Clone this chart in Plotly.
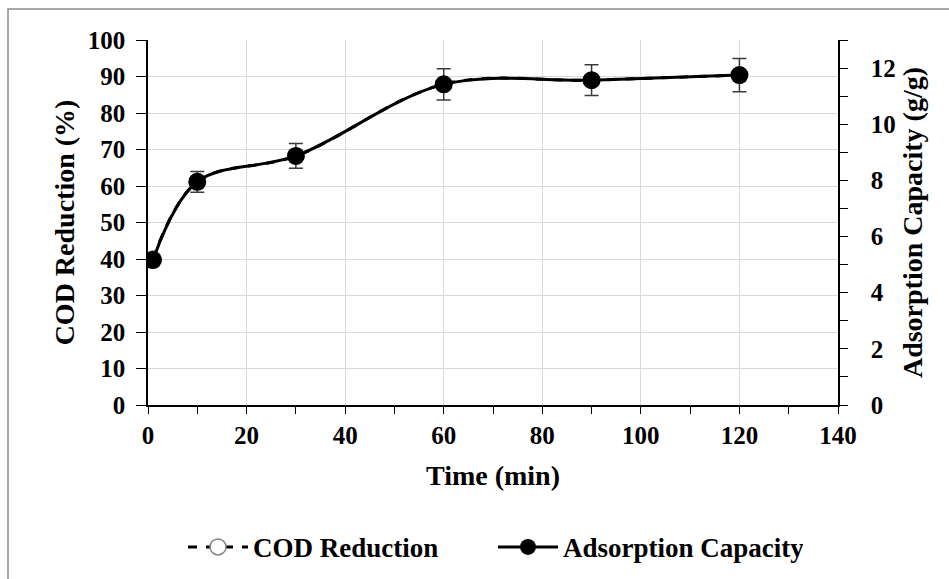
import plotly.graph_objects as go

# ---- data ----
time_min = [1, 10, 30, 60, 90, 120]
cod_reduction = [40.0, 61.2, 68.2, 87.9, 89.0, 90.4]          # %
adsorption_capacity = [5.16, 7.95, 8.87, 11.42, 11.57, 11.75]  # g/g
adsorption_err = [0.0, 0.37, 0.44, 0.56, 0.55, 0.59]           # g/g

x_ticks = [0, 20, 40, 60, 80, 100, 120, 140]
y_left_ticks = [0, 10, 20, 30, 40, 50, 60, 70, 80, 90, 100]
y_right_ticks = [0, 2, 4, 6, 8, 10, 12]

FONT = "Liberation Serif"
W, H = 949, 579
ML, MR, MT, MB = 148, 111, 40, 174
PW, PH = W - ML - MR, H - MT - MB

fig = go.Figure()

fig.add_trace(go.Scatter(
    x=time_min, y=cod_reduction, name="<b>COD Reduction</b>",
    mode="lines+markers", yaxis="y", xaxis="x",
    line=dict(color="black", width=3, dash="dash", shape="spline", smoothing=1),
    marker=dict(symbol="circle", size=16, color="white",
                line=dict(color="#808080", width=1.5)),
))

fig.add_trace(go.Scatter(
    x=time_min, y=adsorption_capacity, name="<b>Adsorption Capacity</b>",
    mode="lines+markers", yaxis="y2", xaxis="x",
    line=dict(color="black", width=3, shape="spline", smoothing=1),
    marker=dict(symbol="circle", size=18, color="black"),
    error_y=dict(type="data", array=adsorption_err, visible=True,
                 color="#3a3a3a", thickness=1.5, width=7),
))

axis_font = dict(family=FONT, size=25, color="black")
title_font = dict(family=FONT, size=28, color="black")

fig.update_layout(
    width=W, height=H,
    margin=dict(l=ML, r=MR, t=MT, b=MB, autoexpand=False),
    paper_bgcolor="white", plot_bgcolor="white",
    font=dict(family=FONT, color="black"),
    xaxis=dict(
        range=[0, 140], tickvals=x_ticks, ticktext=[f"<b>{v}</b>" for v in x_ticks],
        ticks="outside", ticklen=7, tickwidth=1.3, tickcolor="black",
        minor=dict(dtick=10, tick0=0, ticks="outside", ticklen=7, tickwidth=1.3,
                   tickcolor="black", showgrid=False),
        showline=True, linecolor="black", linewidth=1.5,
        showgrid=True, gridcolor="#d9d9d9", gridwidth=1,
        zeroline=False, tickfont=axis_font, ticklabelstandoff=0,
        title=dict(text="<b>Time (min)</b>", font=title_font, standoff=18),
        automargin=False,
    ),
    xaxis2=dict(
        range=[0, 140], overlaying="x", anchor="y", side="bottom",
        tickvals=x_ticks, showticklabels=False,
        ticks="inside", ticklen=8, tickwidth=1.3, tickcolor="black",
        minor=dict(dtick=10, tick0=0, ticks="inside", ticklen=8, tickwidth=1.3,
                   tickcolor="black", showgrid=False),
        showline=False, showgrid=False, zeroline=False,
    ),
    yaxis=dict(
        range=[0, 100], tickvals=y_left_ticks,
        ticktext=[f"<b>{v}</b>" for v in y_left_ticks],
        ticks="outside", ticklen=10, tickwidth=1.3, tickcolor="black",
        showline=True, linecolor="black", linewidth=1.5,
        showgrid=True, gridcolor="#d9d9d9", gridwidth=1,
        zeroline=False, tickfont=axis_font, ticklabelstandoff=6,
        title=dict(text="<b>COD Reduction (%)</b>", font=title_font, standoff=5),
        automargin=False,
    ),
    yaxis2=dict(
        range=[0, 13], overlaying="y", side="right", anchor="x",
        tickvals=y_right_ticks, ticktext=[f"<b>{v}</b>" for v in y_right_ticks],
        ticks="outside", ticklen=8, tickwidth=1.3, tickcolor="black",
        minor=dict(dtick=1, tick0=0, ticks="outside", ticklen=8, tickwidth=1.3,
                   tickcolor="black", showgrid=False),
        showline=True, linecolor="black", linewidth=1.5,
        showgrid=False, zeroline=False, tickfont=axis_font, ticklabelstandoff=18,
        title=dict(text="<b>Adsorption Capacity (g/g)</b>", font=title_font, standoff=8),
        automargin=False,
    ),
    legend=dict(
        orientation="h", x=0.5, xanchor="center", y=-0.39, yanchor="middle",
        font=dict(family=FONT, size=27, color="black"),
        bgcolor="rgba(0,0,0,0)", itemwidth=60,
        entrywidth=235, entrywidthmode="pixels",
        tracegroupgap=0,
    ),
    showlegend=True,
    shapes=[dict(
        type="rect", xref="paper", yref="paper",
        x0=(8 - ML) / PW, x1=(W + 10 - ML) / PW,
        y0=(H - MB - (H + 10)) / PH, y1=(H - MB - 9) / PH,
        line=dict(color="#8c8c8c", width=1.5), fillcolor="rgba(0,0,0,0)",
        layer="below",
    )],
)

fig.write_html("out.html")
